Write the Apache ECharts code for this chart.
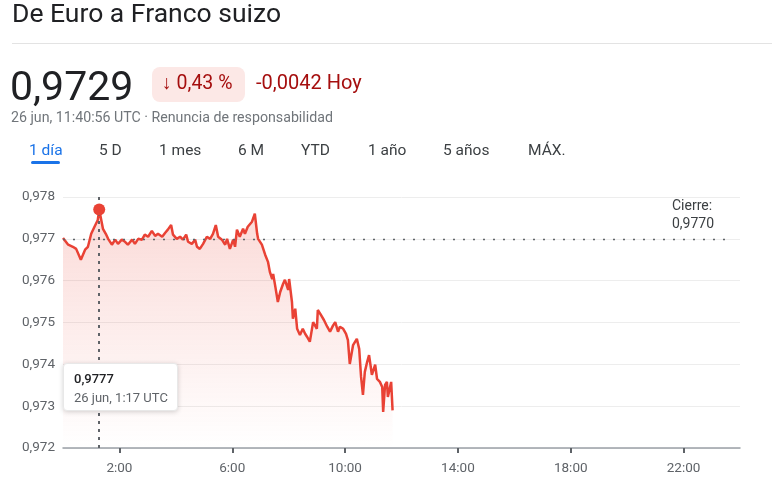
<!DOCTYPE html>
<html>
<head>
<meta charset="utf-8">
<script src="https://cdn.jsdelivr.net/npm/echarts@6/dist/echarts.min.js"></script>
<style>
  html, body { margin: 0; padding: 0; background: #fff; }
  #wrap { position: relative; width: 772px; height: 496px; }
  #chart { width: 772px; height: 496px; }
  #tip {
    position: absolute; left: 63px; top: 363px; width: 115px; height: 48px; box-sizing: border-box;
    padding: 5px 0 0 10px; background: #fff; border: 1px solid #e8e8e8; border-radius: 4px; white-space: nowrap;
    box-shadow: 0 1px 5px rgba(0,0,0,0.18); font-family: Roboto, Arial, sans-serif; font-size: 13px; line-height: 19px;
  }
  #tip b { font-weight: 500; color: #202124; display: block; }
  #tip span { color: #5f6368; display: block; }
</style>
</head>
<body>
<div id="wrap">
  <div id="chart"></div>
  <div id="tip"><b id="tipValue"></b><span id="tipDate">26 jun, 1:17 UTC</span></div>
</div>
<script>
// minutos desde las 0:00 UTC
var times = [0, 11, 21, 28, 32, 38, 47, 53, 60, 67, 74, 77,
  85, 91, 96, 104, 111, 117, 125, 132, 138, 147, 153, 160, 168, 174, 181, 189, 196, 202,
  211, 217, 223, 230, 234, 242, 249, 255, 262, 266, 274, 281, 285, 291, 298, 306, 313, 319,
  325, 330, 338, 345, 349, 355, 362, 366, 370, 376, 383, 387, 393, 402, 408, 413, 415,
  419, 423, 430, 436, 440, 445, 447, 451, 457, 462, 468, 472, 479, 481, 487, 489, 494, 498,
  504, 510, 515, 519, 525, 532, 540, 542, 547, 555, 562, 568, 574, 579, 585, 589, 596, 602, 606, 610,
  617, 625, 630, 634, 638, 642, 647, 651, 657, 664, 668, 674, 679, 681, 685, 689, 691, 698, 701];
var values = [0.97702, 0.97686, 0.97681, 0.97676, 0.97678, 0.97650, 0.97674, 0.97681, 0.97712, 0.97729, 0.97745, 0.97770,
  0.97724, 0.97712, 0.97700, 0.97686, 0.97698, 0.97688, 0.97698, 0.97693, 0.97686, 0.97698, 0.97688, 0.97700,
  0.97698, 0.97710, 0.97705, 0.97719, 0.97707, 0.97712,
  0.97705, 0.97714, 0.97722, 0.97733, 0.97710, 0.97700, 0.97705, 0.97698, 0.97710, 0.97693, 0.97688, 0.97698,
  0.97681, 0.97676, 0.97688, 0.97705, 0.97700, 0.97712,
  0.97733, 0.97705, 0.97698, 0.97686, 0.97700, 0.97676, 0.97698, 0.97681, 0.97722, 0.97705, 0.97724, 0.97712,
  0.97729, 0.97741, 0.97760, 0.97712, 0.97700,
  0.97702, 0.97686, 0.97662, 0.97645, 0.97621, 0.97604, 0.97616, 0.97590, 0.97549, 0.97573, 0.97592, 0.97602,
  0.97578, 0.97604, 0.97549, 0.97509, 0.97533, 0.97485,
  0.97470, 0.97485, 0.97473, 0.97466, 0.97454, 0.97501, 0.97485, 0.97530, 0.97521, 0.97506, 0.97490, 0.97478,
  0.97492, 0.97501, 0.97478, 0.97490, 0.97485, 0.97473, 0.97458, 0.97401,
  0.97446, 0.97461, 0.97437, 0.97370, 0.97327, 0.97382, 0.97406, 0.97422, 0.97375, 0.97399, 0.97365, 0.97358,
  0.97346, 0.97286, 0.97351, 0.97358, 0.97322, 0.97358, 0.97290];
var xTicks = [120, 360, 600, 840, 1080, 1320];
var tabs = ['1 día', '5 D', '1 mes', '6 M', 'YTD', '1 año', '5 años', 'MÁX.'];
var tabX = [29, 99, 159, 238, 301, 368, 443, 528];
var closeValue = 0.9770;
var hoverTime = 77, hoverValue = 0.9777;

var fmt = function (v, d) { return v.toFixed(d).replace('.', ','); };
var lineData = times.map(function (t, i) { return [t, values[i]]; });
var font = 'Roboto, Arial, sans-serif';
document.getElementById('tipValue').textContent = fmt(hoverValue, 4);

var graphics = [
  { type: 'text', left: 12, top: 2, style: { text: 'De Euro a Franco suizo', font: '400 26.5px ' + font, fill: '#202124' } },
  { type: 'rect', shape: { x: 12, y: 43, width: 760, height: 1 }, style: { fill: '#e3e3e3' } },
  { type: 'text', left: 10, top: 69, style: { text: fmt(values[values.length - 1], 4), font: '400 41px ' + font, fill: '#202124' } },
  { type: 'rect', shape: { x: 152, y: 67, width: 93, height: 35, r: 8 }, style: { fill: '#fce8e6' } },
  { type: 'text', left: 162, top: 74, style: { text: '↓ 0,43 %', font: '400 19.5px ' + font, fill: '#a50e0e' } },
  { type: 'text', left: 256, top: 74, style: { text: '-0,0042 Hoy', font: '400 20px ' + font, fill: '#a50e0e' } },
  { type: 'text', left: 11, top: 111, style: { text: '26 jun, 11:40:56 UTC · Renuncia de responsabilidad', font: '400 14.2px ' + font, fill: '#70757a' } },
  { type: 'rect', shape: { x: 31, y: 161, width: 29, height: 3, r: 1.5 }, style: { fill: '#1a73e8' } },
  { type: 'text', left: 672, top: 197, style: { text: 'Cierre:\n' + fmt(closeValue, 4), font: '400 14px ' + font, fill: '#3c4043', lineHeight: 18, align: 'left' } }
];
tabs.forEach(function (t, i) {
  graphics.push({ type: 'text', left: tabX[i], top: 143, style: { text: t, font: '400 15.5px ' + font, fill: i === 0 ? '#1a73e8' : '#3c4043' } });
});

var chart = echarts.init(document.getElementById('chart'));
chart.setOption({
  animation: false,
  grid: { left: 63, right: 32, top: 197, bottom: 48 },
  xAxis: {
    type: 'value', min: 0, max: 1440,
    splitLine: { show: false },
    axisLine: { lineStyle: { color: '#9aa0a6', width: 1.5 } },
    axisTick: { show: true, length: 5, lineStyle: { color: '#5f6368', width: 2 }, customValues: xTicks },
    axisLabel: {
      customValues: xTicks, margin: 14, color: '#5f6368', fontSize: 13.5, fontFamily: font,
      formatter: function (v) { return Math.floor(v / 60) + ':00'; }
    }
  },
  yAxis: {
    type: 'value', min: 0.972, max: 0.978, interval: 0.001,
    axisLine: { show: false }, axisTick: { show: false },
    splitLine: { lineStyle: { color: '#ededed' } },
    axisLabel: { margin: 8, color: '#5f6368', fontSize: 13.5, fontFamily: font, formatter: function (v) { return fmt(v, 3); } }
  },
  series: [{
    type: 'line',
    data: lineData,
    showSymbol: false,
    z: 3,
    lineStyle: { color: '#e94235', width: 2.5 },
    areaStyle: {
      color: new echarts.graphic.LinearGradient(0, 0, 0, 1, [
        { offset: 0, color: 'rgba(234,67,53,0.28)' },
        { offset: 1, color: 'rgba(234,67,53,0.0)' }
      ])
    },
    markLine: {
      silent: true, symbol: 'none', label: { show: false },
      data: [
        { xAxis: hoverTime, lineStyle: { color: '#5f6368', type: [3, 5], width: 2 } },
        [
          { coord: [0, closeValue], lineStyle: { color: '#5f6368', type: [2, 8], width: 1.3 } },
          { coord: [1420, closeValue] }
        ]
      ]
    },
    markPoint: {
      silent: true, symbol: 'circle', symbolSize: 12, label: { show: false },
      itemStyle: { color: '#e94235' },
      data: [{ coord: [hoverTime, hoverValue] }]
    }
  }],
  graphic: graphics
});
</script>
</body>
</html>
